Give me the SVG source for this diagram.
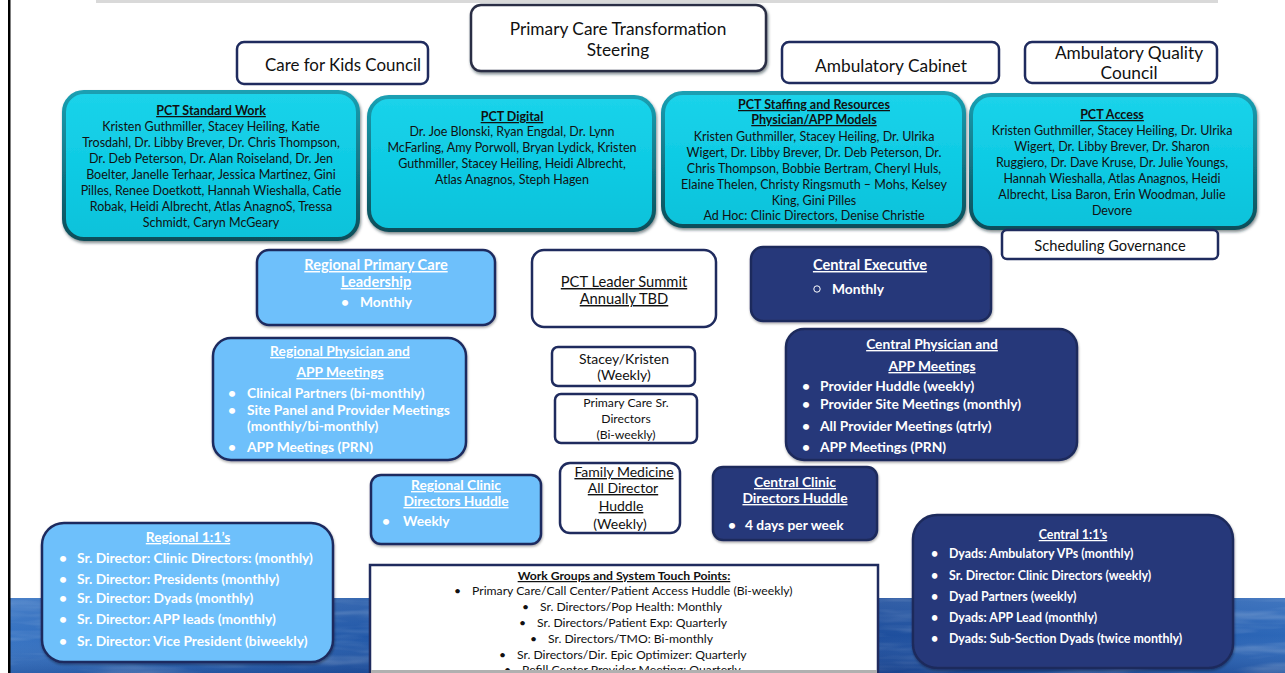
<svg xmlns="http://www.w3.org/2000/svg" width="1285" height="673" viewBox="0 0 1285 673">
  <defs>
    <linearGradient id="tealFill" x1="0" y1="0" x2="0" y2="1">
      <stop offset="0" stop-color="#1bd3ea"/>
      <stop offset="0.5" stop-color="#0fcbe4"/>
      <stop offset="1" stop-color="#0cc2da"/>
    </linearGradient>
    <linearGradient id="tealEdge" x1="0" y1="0" x2="0" y2="1">
      <stop offset="0" stop-color="#1a9fb2"/>
      <stop offset="1" stop-color="#0b4e5a"/>
    </linearGradient>
    <linearGradient id="sea" x1="0" y1="0" x2="1" y2="0">
      <stop offset="0" stop-color="#3572c2"/>
      <stop offset="0.3" stop-color="#2056a6"/>
      <stop offset="0.6" stop-color="#1a4896"/>
      <stop offset="1" stop-color="#2c67b8"/>
    </linearGradient>
    <linearGradient id="seaV" x1="0" y1="0" x2="0" y2="1">
      <stop offset="0" stop-color="#ffffff" stop-opacity="0.10"/>
      <stop offset="0.5" stop-color="#ffffff" stop-opacity="0"/>
      <stop offset="1" stop-color="#000030" stop-opacity="0.15"/>
    </linearGradient>
    <filter id="shade" x="-5%" y="-5%" width="110%" height="120%">
      <feDropShadow dx="1" dy="2" stdDeviation="1.5" flood-color="#0a2a33" flood-opacity="0.55"/>
    </filter>
    <filter id="soft" x="-5%" y="-5%" width="110%" height="120%">
      <feDropShadow dx="0.5" dy="1.5" stdDeviation="1" flood-color="#000" flood-opacity="0.35"/>
    </filter>
    <filter id="ripple" x="0" y="0" width="100%" height="100%">
      <feTurbulence type="fractalNoise" baseFrequency="0.012 0.09" numOctaves="3" seed="4" result="n"/>
      <feColorMatrix in="n" type="matrix" values="0 0 0 0 1  0 0 0 0 1  0 0 0 0 1  0 0 0 1.4 -0.62"/>
      <feComposite in2="SourceGraphic" operator="in"/>
    </filter>
  </defs>
  <style>
    text { font-family: Lato, "Liberation Sans", sans-serif; }
    .teal { fill: url(#tealFill); stroke: url(#tealEdge); stroke-width: 4; filter: url(#shade); }
    .lb { fill: #6ec0fb; stroke: #1f2b5e; stroke-width: 2.5; filter: url(#soft); }
    .nv { fill: #28387a; stroke: #1d2a5c; stroke-width: 2.5; filter: url(#soft); }
    .wb { fill: #ffffff; stroke: #1f2b5e; stroke-width: 2.5; }
    .tl { font-size: 12.5px; fill: #111; text-anchor: middle; }
    .th { font-size: 12.5px; font-weight: bold; fill: #111; text-anchor: middle; text-decoration: underline; }
    .hd { font-size: 17.3px; fill: #111; text-anchor: middle; }
    .wt { font-size: 13.8px; font-weight: bold; fill: #fff; }
    .wtc { font-size: 13.8px; font-weight: bold; fill: #fff; text-anchor: middle; text-decoration: underline; }
    .ct { font-size: 12.4px; font-weight: bold; fill: #fff; }
    .bk { font-size: 14.7px; fill: #111; text-anchor: middle; }
    .sm { font-size: 12.2px; fill: #111; }
  </style>

  <!-- page frame -->
  <rect x="0" y="0" width="1285" height="673" fill="#ffffff"/>
  <rect x="96" y="0" width="1122" height="3" fill="#d9d9d9"/>
  <g id="sea-band">
    <rect x="10" y="598" width="1275" height="75" fill="url(#sea)"/>
    <rect x="10" y="598" width="1275" height="75" fill="#ffffff" filter="url(#ripple)" opacity="0.35"/>
    <rect x="10" y="598" width="1275" height="75" fill="url(#seaV)"/>
  </g>
  <rect x="8" y="0" width="2.5" height="673" fill="#000"/>

  <!-- upper committees -->
  <g id="pct-steering">
    <rect x="471" y="5" width="295" height="66" rx="10" fill="#fff" stroke="#2a2f45" stroke-width="2.5" filter="url(#shade)"/>
    <text class="hd" x="618" y="35">Primary Care Transformation</text>
    <text class="hd" x="618" y="56">Steering</text>
  </g>
  <g id="care-for-kids">
    <rect x="237" y="42" width="191" height="42" rx="7" class="wb"/>
    <text class="hd" x="343" y="71" style="font-size:16.9px">Care for Kids Council</text>
  </g>
  <g id="ambulatory-cabinet">
    <rect x="782" y="42" width="217" height="41" rx="7" class="wb"/>
    <text class="hd" x="891" y="72">Ambulatory Cabinet</text>
  </g>
  <g id="ambulatory-quality">
    <rect x="1025" y="42" width="192" height="41" rx="7" class="wb"/>
    <text class="hd" x="1129" y="59">Ambulatory Quality</text>
    <text class="hd" x="1129" y="79">Council</text>
  </g>

  <!-- PCT work streams -->
  <g id="pct-standard-work">
    <rect x="64" y="92" width="294" height="147" rx="20" class="teal"/>
    <text class="th" x="211" y="115">PCT Standard Work</text>
    <text class="tl" x="211" y="131">Kristen Guthmiller, Stacey Heiling, Katie</text>
    <text class="tl" x="211" y="147">Trosdahl, Dr. Libby Brever, Dr. Chris Thompson,</text>
    <text class="tl" x="211" y="163">Dr. Deb Peterson,  Dr. Alan Roiseland, Dr. Jen</text>
    <text class="tl" x="211" y="179">Boelter, Janelle Terhaar, Jessica Martinez, Gini</text>
    <text class="tl" x="211" y="195">Pilles, Renee Doetkott, Hannah Wieshalla, Catie</text>
    <text class="tl" x="211" y="211">Robak, Heidi Albrecht, Atlas AnagnoS, Tressa</text>
    <text class="tl" x="211" y="227">Schmidt, Caryn McGeary</text>
  </g>
  <g id="pct-digital">
    <rect x="369" y="97" width="285" height="133" rx="20" class="teal"/>
    <text class="th" x="512" y="121">PCT Digital</text>
    <text class="tl" x="512" y="136">Dr. Joe Blonski, Ryan Engdal, Dr. Lynn</text>
    <text class="tl" x="512" y="152">McFarling, Amy Porwoll, Bryan Lydick, Kristen</text>
    <text class="tl" x="512" y="168">Guthmiller, Stacey Heiling, Heidi Albrecht,</text>
    <text class="tl" x="512" y="184">Atlas Anagnos, Steph Hagen</text>
  </g>
  <g id="pct-staffing">
    <rect x="663" y="93" width="301" height="133" rx="20" class="teal"/>
    <text class="th" x="814" y="109">PCT Staffing and Resources</text>
    <text class="th" x="814" y="124">Physician/APP Models</text>
    <text class="tl" x="814" y="141">Kristen Guthmiller, Stacey Heiling, Dr. Ulrika</text>
    <text class="tl" x="814" y="157">Wigert, Dr. Libby Brever, Dr. Deb Peterson, Dr.</text>
    <text class="tl" x="814" y="173">Chris Thompson, Bobbie Bertram, Cheryl Huls,</text>
    <text class="tl" x="814" y="189">Elaine Thelen, Christy Ringsmuth – Mohs, Kelsey</text>
    <text class="tl" x="814" y="205">King, Gini Pilles</text>
    <text class="tl" x="814" y="220">Ad Hoc: Clinic Directors, Denise Christie</text>
  </g>
  <g id="pct-access">
    <rect x="971" y="95" width="284" height="133" rx="20" class="teal"/>
    <text class="th" x="1112" y="119">PCT Access</text>
    <text class="tl" x="1112" y="135">Kristen Guthmiller, Stacey Heiling, Dr. Ulrika</text>
    <text class="tl" x="1112" y="151">Wigert, Dr. Libby Brever,  Dr. Sharon</text>
    <text class="tl" x="1112" y="167">Ruggiero, Dr. Dave Kruse, Dr. Julie Youngs,</text>
    <text class="tl" x="1112" y="183">Hannah Wieshalla, Atlas Anagnos, Heidi</text>
    <text class="tl" x="1112" y="199">Albrecht, Lisa Baron, Erin Woodman, Julie</text>
    <text class="tl" x="1112" y="215">Devore</text>
  </g>
  <g id="scheduling-governance">
    <rect x="1002" y="230" width="216" height="29" rx="5" class="wb"/>
    <text class="bk" x="1110" y="251">Scheduling Governance</text>
  </g>

  <!-- leadership tier -->
  <g id="regional-pc-leadership">
    <rect x="257" y="250" width="238" height="75" rx="12" class="lb"/>
    <text class="wtc" x="376" y="270" style="font-size:14.6px">Regional Primary Care</text>
    <text class="wtc" x="376" y="287" style="font-size:14.6px">Leadership</text>
    <text class="wt" x="341" y="307">•</text>
    <text class="wt" x="360" y="307">Monthly</text>
  </g>
  <g id="pct-leader-summit">
    <rect x="532" y="250" width="184" height="77" rx="12" class="wb"/>
    <text class="bk" x="624" y="287" text-decoration="underline">PCT Leader Summit</text>
    <text class="bk" x="624" y="304" text-decoration="underline">Annually TBD</text>
  </g>
  <g id="central-executive">
    <rect x="751" y="247" width="240" height="74" rx="12" class="nv"/>
    <text class="wtc" x="870" y="270" style="font-size:14.6px">Central Executive</text>
    <circle cx="817" cy="289" r="3.2" fill="none" stroke="#fff" stroke-width="1"/>
    <text class="wt" x="832" y="294">Monthly</text>
  </g>

  <!-- meetings tier -->
  <g id="regional-physician-app">
    <rect x="213" y="338" width="253" height="122" rx="18" class="lb"/>
    <text class="wtc" x="340" y="356">Regional Physician and</text>
    <text class="wtc" x="340" y="377"> APP Meetings</text>
    <text class="wt" x="228" y="398">•</text>
    <text class="wt" x="247" y="398">Clinical Partners (bi-monthly)</text>
    <text class="wt" x="228" y="415">•</text>
    <text class="wt" x="247" y="415">Site Panel and Provider Meetings</text>
    <text class="wt" x="247" y="431">(monthly/bi-monthly)</text>
    <text class="wt" x="228" y="452">•</text>
    <text class="wt" x="247" y="452">APP Meetings (PRN)</text>
  </g>
  <g id="stacey-kristen">
    <rect x="552" y="347" width="143" height="39" rx="6" class="wb"/>
    <text class="bk" x="624" y="364" style="font-size:14px">Stacey/Kristen</text>
    <text class="bk" x="624" y="380" style="font-size:14px">(Weekly)</text>
  </g>
  <g id="pc-sr-directors">
    <rect x="555" y="394" width="142" height="49" rx="6" class="wb"/>
    <text class="sm" x="626" y="407" text-anchor="middle">Primary Care Sr.</text>
    <text class="sm" x="626" y="423" text-anchor="middle">Directors</text>
    <text class="sm" x="626" y="439" text-anchor="middle">(Bi-weekly)</text>
  </g>
  <g id="central-physician-app">
    <rect x="786" y="329" width="291" height="131" rx="18" class="nv"/>
    <text class="wtc" x="932" y="349">Central Physician and</text>
    <text class="wtc" x="932" y="371"> APP Meetings </text>
    <text class="wt" x="802" y="391">•</text>
    <text class="wt" x="820" y="391">Provider Huddle (weekly)</text>
    <text class="wt" x="802" y="409">•</text>
    <text class="wt" x="820" y="409">Provider Site Meetings (monthly)</text>
    <text class="wt" x="802" y="431">•</text>
    <text class="wt" x="820" y="431">All Provider Meetings (qtrly)</text>
    <text class="wt" x="802" y="452">•</text>
    <text class="wt" x="820" y="452">APP Meetings (PRN)</text>
  </g>

  <!-- huddles -->
  <g id="regional-clinic-huddle">
    <rect x="371" y="475" width="170" height="69" rx="10" class="lb"/>
    <text class="wtc" x="456" y="490">Regional Clinic</text>
    <text class="wtc" x="456" y="506">Directors Huddle</text>
    <text class="wt" x="382" y="526">•</text>
    <text class="wt" x="403" y="526">Weekly</text>
  </g>
  <g id="family-medicine-huddle">
    <rect x="560" y="463" width="120" height="70" rx="10" class="wb"/>
    <text class="bk" x="624" y="477" style="font-size:14px" text-decoration="underline">Family Medicine</text>
    <text class="bk" x="623" y="493" style="font-size:14px" text-decoration="underline">All Director</text>
    <text class="bk" x="621" y="511" style="font-size:14px" text-decoration="underline">Huddle</text>
    <text class="bk" x="620" y="529" style="font-size:14px">(Weekly)</text>
  </g>
  <g id="central-clinic-huddle">
    <rect x="713" y="467" width="164" height="73" rx="10" class="nv"/>
    <text class="wtc" x="795" y="487">Central Clinic</text>
    <text class="wtc" x="795" y="503">Directors Huddle</text>
    <text class="wt" x="728" y="530">•</text>
    <text class="wt" x="745" y="530">4 days per week</text>
  </g>

  <!-- one-to-ones and touch points -->
  <g id="regional-1-1">
    <rect x="42" y="523" width="291" height="139" rx="22" class="lb"/>
    <text class="wtc" x="188" y="542">Regional 1:1’s</text>
    <text class="wt" x="59" y="563">•</text>
    <text class="wt" x="77" y="563">Sr. Director: Clinic Directors: (monthly)</text>
    <text class="wt" x="59" y="584">•</text>
    <text class="wt" x="77" y="584">Sr. Director: Presidents  (monthly)</text>
    <text class="wt" x="59" y="603">•</text>
    <text class="wt" x="77" y="603">Sr. Director: Dyads (monthly)</text>
    <text class="wt" x="59" y="624">•</text>
    <text class="wt" x="77" y="624">Sr. Director: APP leads (monthly)</text>
    <text class="wt" x="59" y="646">•</text>
    <text class="wt" x="77" y="646">Sr. Director: Vice President (biweekly)</text>
  </g>
  <g id="central-1-1">
    <rect x="913" y="515" width="320" height="153" rx="24" class="nv"/>
    <text class="ct" x="1073" y="539" text-anchor="middle" text-decoration="underline">Central 1:1’s</text>
    <text class="ct" x="931" y="558">•</text>
    <text class="ct" x="949" y="558">Dyads: Ambulatory VPs (monthly)</text>
    <text class="ct" x="931" y="580">•</text>
    <text class="ct" x="949" y="580">Sr. Director: Clinic Directors (weekly)</text>
    <text class="ct" x="931" y="601">•</text>
    <text class="ct" x="949" y="601">Dyad Partners (weekly)</text>
    <text class="ct" x="931" y="622">•</text>
    <text class="ct" x="949" y="622">Dyads: APP Lead (monthly)</text>
    <text class="ct" x="931" y="643">•</text>
    <text class="ct" x="949" y="643">Dyads: Sub-Section Dyads (twice monthly)</text>
  </g>
  <g id="work-groups">
    <rect x="370" y="565" width="508" height="112" fill="#fff" stroke="#1f2b5e" stroke-width="2.5"/>
    <text class="sm" x="624" y="580" text-anchor="middle" font-weight="bold" text-decoration="underline">Work Groups and System Touch Points:</text>
    <text class="sm" x="454" y="595">•</text>
    <text class="sm" x="472" y="595">Primary Care/Call Center/Patient Access Huddle (Bi-weekly)</text>
    <text class="sm" x="522" y="611">•</text>
    <text class="sm" x="540" y="611">Sr. Directors/Pop Health: Monthly</text>
    <text class="sm" x="519" y="627">•</text>
    <text class="sm" x="537" y="627">Sr. Directors/Patient Exp: Quarterly</text>
    <text class="sm" x="530" y="643">•</text>
    <text class="sm" x="548" y="643">Sr. Directors/TMO: Bi-monthly</text>
    <text class="sm" x="499" y="659">•</text>
    <text class="sm" x="517" y="659">Sr. Directors/Dir. Epic Optimizer: Quarterly</text>
    <text class="sm" x="504" y="674">•</text>
    <text class="sm" x="522" y="674">Refill Center Provider Meeting: Quarterly</text>
    <rect x="371" y="670" width="506" height="3" fill="#b0b0b0"/>
  </g>
</svg>
